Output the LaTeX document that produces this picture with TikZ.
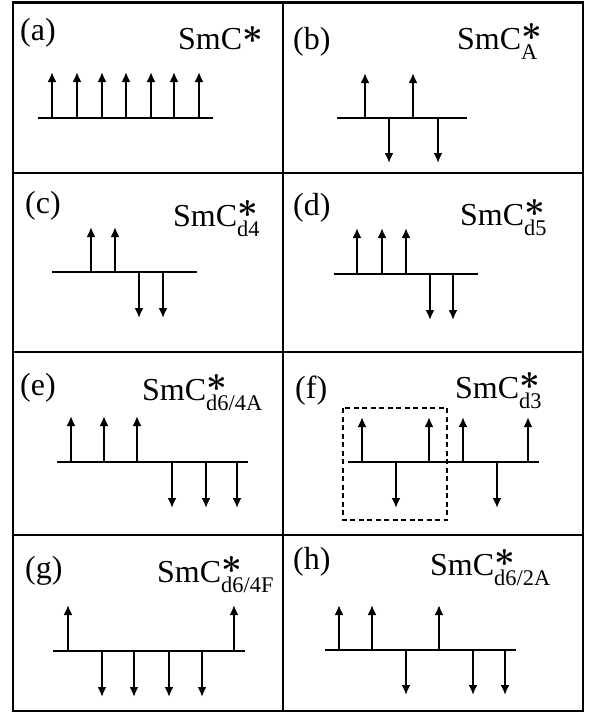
\documentclass[tikz,border=0pt]{standalone}
\usepackage{amsmath}
\usepackage{fontspec}
\setmainfont{Liberation Serif}
\usepackage{tikz}
\usetikzlibrary{arrows.meta}

\newcommand{\phasestar}{\raisebox{-4pt}{\scalebox{1.45}{$\boldsymbol{\ast}$}}}

\begin{document}
\begin{tikzpicture}[
        x=1pt, y=-1pt,
        font=\fontsize{32}{38}\selectfont,
        gridline/.style={
            draw=black,
            line width=2.4pt
        },
        layerline/.style={
            draw=black,
            line width=1.3pt
        },
        spinarrow/.style={
            draw=black,
            line width=2.5pt,
            -{Latex[length=10pt,width=9pt]}
        },
        cellbox/.style={
            draw=black,
            line width=1.4pt,
            dash pattern=on 5pt off 3.5pt
        },
        panellabel/.style={
            anchor=base west,
            inner sep=0pt
        },
        phaselabel/.style={
            anchor=base west,
            inner sep=0pt
        }
    ]

    % Ramme og gitter, 2 x 4 felter
    \useasboundingbox (0,0) rectangle (591,713);
    \draw[gridline] (13,2.5) rectangle (583,711);
    \draw[gridline] (283,2.5) -- (283,711);
    \draw[gridline] (13,173) -- (583,173);
    \draw[gridline] (13,352) -- (583,352);
    \draw[gridline] (13,535) -- (583,535);

    % (a) SmC*
    \node[panellabel] (labA) at (20,40) {(a)};
    \node[phaselabel] (phaseA) at (178,49) {SmC$^{\phasestar}$};
    \draw[layerline] (38,118) -- (213,118);
    \draw[spinarrow] (52,118) -- (52,72);
    \draw[spinarrow] (77,118) -- (77,72);
    \draw[spinarrow] (102,118) -- (102,72);
    \draw[spinarrow] (126,118) -- (126,72);
    \draw[spinarrow] (151,118) -- (151,72);
    \draw[spinarrow] (174,118) -- (174,72);
    \draw[spinarrow] (199,118) -- (199,72);

    % (b) SmC*_A
    \node[panellabel] (labB) at (293,49) {(b)};
    \node[phaselabel] (phaseB) at (457,49) {SmC$^{\phasestar}_{\text{A}}$};
    \draw[layerline] (337,118) -- (467,118);
    \draw[spinarrow] (365,118) -- (365,73);
    \draw[spinarrow] (413,118) -- (413,73);
    \draw[spinarrow] (389,118) -- (389,163);
    \draw[spinarrow] (438,118) -- (438,163);

    % (c) SmC*_d4
    \node[panellabel] (labC) at (25,213) {(c)};
    \node[phaselabel] (phaseC) at (173,226) {SmC$^{\phasestar}_{\text{d4}}$};
    \draw[layerline] (52,272) -- (197,272);
    \draw[spinarrow] (91,272) -- (91,227);
    \draw[spinarrow] (115,272) -- (115,227);
    \draw[spinarrow] (139,272) -- (139,318);
    \draw[spinarrow] (163,272) -- (163,318);

    % (d) SmC*_d5
    \node[panellabel] (labD) at (293,215) {(d)};
    \node[phaselabel] (phaseD) at (460,225) {SmC$^{\phasestar}_{\text{d5}}$};
    \draw[layerline] (334,274) -- (478,274);
    \draw[spinarrow] (357,274) -- (357,228);
    \draw[spinarrow] (382,274) -- (382,228);
    \draw[spinarrow] (406,274) -- (406,228);
    \draw[spinarrow] (430,274) -- (430,320);
    \draw[spinarrow] (453,274) -- (453,320);

    % (e) SmC*_d6/4A
    \node[panellabel] (labE) at (20,395) {(e)};
    \node[phaselabel] (phaseE) at (142,400) {SmC$^{\phasestar}_{\text{d6/4A}}$};
    \draw[layerline] (57,462) -- (248,462);
    \draw[spinarrow] (71,462) -- (71,416);
    \draw[spinarrow] (104,462) -- (104,416);
    \draw[spinarrow] (137,462) -- (137,416);
    \draw[spinarrow] (172,462) -- (172,508);
    \draw[spinarrow] (206,462) -- (206,508);
    \draw[spinarrow] (237,462) -- (237,508);

    % (f) SmC*_d3, stiplet kasse om enhedscellen
    \node[panellabel] (labF) at (295,398) {(f)};
    \node[phaselabel] (phaseF) at (455,398) {SmC$^{\phasestar}_{\text{d3}}$};
    \draw[cellbox] (343,408) rectangle (447,520);
    \draw[layerline] (348,462) -- (539,462);
    \draw[spinarrow] (362,462) -- (362,417);
    \draw[spinarrow] (429,462) -- (429,417);
    \draw[spinarrow] (463,462) -- (463,417);
    \draw[spinarrow] (528,462) -- (528,417);
    \draw[spinarrow] (396,462) -- (396,508);
    \draw[spinarrow] (497,462) -- (497,508);

    % (g) SmC*_d6/4F
    \node[panellabel] (labG) at (25,578) {(g)};
    \node[phaselabel] (phaseG) at (157,582) {SmC$^{\phasestar}_{\text{d6/4F}}$};
    \draw[layerline] (53,651) -- (245,651);
    \draw[spinarrow] (68,651) -- (68,605);
    \draw[spinarrow] (234,651) -- (234,605);
    \draw[spinarrow] (102,651) -- (102,697);
    \draw[spinarrow] (134,651) -- (134,697);
    \draw[spinarrow] (169,651) -- (169,697);
    \draw[spinarrow] (202,651) -- (202,697);

    % (h) SmC*_d6/2A
    \node[panellabel] (labH) at (293,569) {(h)};
    \node[phaselabel] (phaseH) at (430,575) {SmC$^{\phasestar}_{\text{d6/2A}}$};
    \draw[layerline] (325,650) -- (516,650);
    \draw[spinarrow] (339,650) -- (339,605);
    \draw[spinarrow] (372,650) -- (372,605);
    \draw[spinarrow] (439,650) -- (439,605);
    \draw[spinarrow] (406,650) -- (406,695);
    \draw[spinarrow] (473,650) -- (473,695);
    \draw[spinarrow] (505,650) -- (505,695);

\end{tikzpicture}
\end{document}
